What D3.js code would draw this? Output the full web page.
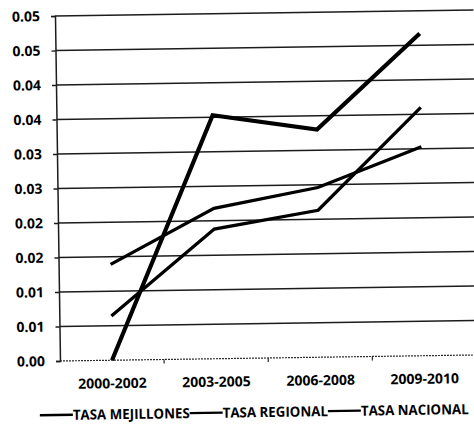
<!DOCTYPE html>
<html>
<head>
<meta charset="utf-8">
<script src="https://cdn.jsdelivr.net/npm/d3@7"></script>
<style>
  html, body { margin: 0; padding: 0; background: #fff; }
  svg { display: block; }
  text { font-family: "Open Sans", "Noto Sans", sans-serif; font-weight: 700; fill: #000; }
</style>
</head>
<body>
<svg id="chart" width="474" height="424"></svg>
<script>
// Periods on the horizontal axis
const categories = ["2000-2002", "2003-2005", "2006-2008", "2009-2010"];

// Rates per period
const tasaMejillones = [0.0000, 0.0353, 0.0330, 0.0467];
const tasaRegional   = [0.0139, 0.0218, 0.0246, 0.0303];
const tasaNacional   = [0.0064, 0.0188, 0.0213, 0.0360];

// Vertical axis ticks (labels shown with two decimals)
const yTickValues = [0, 0.005, 0.01, 0.015, 0.02, 0.025, 0.03, 0.035, 0.04, 0.045, 0.05];
const yTickLabels = ["0.00", "0.01", "0.01", "0.02", "0.02", "0.03", "0.03", "0.04", "0.04", "0.05", "0.05"];

const seriesNames = ["TASA MEJILLONES", "TASA REGIONAL", "TASA NACIONAL"];
const seriesValues = [tasaMejillones, tasaRegional, tasaNacional];
const seriesWidths = [4.2, 3.3, 3.3];

const svg = d3.select("#chart");
const plotLeft = 57.5, plotRight = 474, plotTop = 13, plotBottom = 358;

// whole figure sits at a slight tilt
const g = svg.append("g").attr("transform", "rotate(-0.83, 265, 188)");

const x = d3.scaleBand().domain(categories).range([plotLeft, plotRight]).padding(0);
const y = d3.scaleLinear().domain([0, 0.05]).range([plotBottom, plotTop]);
const cx = c => x(c) + x.bandwidth() / 2;

// horizontal gridlines
g.append("g")
  .selectAll("line")
  .data(yTickValues.filter(v => v > 0))
  .join("line")
  .attr("x1", plotLeft).attr("x2", plotRight + 2)
  .attr("y1", d => y(d)).attr("y2", d => y(d))
  .attr("stroke", "#1c1c1c")
  .attr("stroke-width", 1.4);

// left axis
const yAxis = g.append("g")
  .attr("transform", `translate(${plotLeft},0)`)
  .call(d3.axisLeft(y).tickValues(yTickValues)
    .tickFormat((d, i) => yTickLabels[i]).tickSize(4).tickPadding(11));
yAxis.select(".domain").attr("stroke", "#1c1c1c").attr("stroke-width", 1.5);
yAxis.selectAll(".tick line").attr("stroke", "#1c1c1c").attr("stroke-width", 1.4);
yAxis.selectAll("text").attr("font-size", 14).attr("font-family", null).attr("fill", "#000");

// bottom axis (category boundaries as ticks)
const xAxisG = g.append("g").attr("transform", `translate(0,${plotBottom})`);
xAxisG.append("line")
  .attr("x1", plotLeft).attr("x2", plotRight + 2)
  .attr("stroke", "#2a2a2a").attr("stroke-width", 1.2)
  .attr("stroke-dasharray", "2,1");
xAxisG.selectAll(".sep")
  .data(categories.slice(1))
  .join("line")
  .attr("class", "sep")
  .attr("x1", d => x(d)).attr("x2", d => x(d))
  .attr("y1", 0).attr("y2", 4)
  .attr("stroke", "#2a2a2a").attr("stroke-width", 1.2);
xAxisG.selectAll(".lbl")
  .data(categories)
  .join("text")
  .attr("class", "lbl")
  .attr("x", d => cx(d))
  .attr("y", 28)
  .attr("text-anchor", "middle")
  .attr("font-size", 14)
  .text(d => d);

// series lines
const line = d3.line().x((d, i) => cx(categories[i])).y(d => y(d));
g.append("g")
  .selectAll("path")
  .data(seriesValues)
  .join("path")
  .attr("d", d => line(d))
  .attr("fill", "none")
  .attr("stroke", "#000")
  .attr("stroke-width", (d, i) => seriesWidths[i])
  .attr("stroke-linejoin", "miter");

// legend: line key followed by its label, labels set a bit condensed
const legend = g.append("g");
const lineLen = 33;
const condense = 0.95;
let cursor = 0;
seriesNames.forEach((name, i) => {
  const item = legend.append("g");
  item.append("line")
    .attr("x1", 0).attr("x2", lineLen)
    .attr("y1", 0).attr("y2", 0)
    .attr("stroke", "#000").attr("stroke-width", 2.4);
  const t = item.append("text")
    .attr("x", lineLen)
    .attr("y", 5)
    .attr("font-size", 14)
    .text(name);
  const tw = t.node().getComputedTextLength() * condense;
  t.attr("textLength", tw).attr("lengthAdjust", "spacingAndGlyphs");
  item.attr("transform", `translate(${cursor},0)`);
  cursor += lineLen + tw;
});
legend.attr("transform", `translate(${251 - cursor / 2},412)`);
</script>
</body>
</html>
